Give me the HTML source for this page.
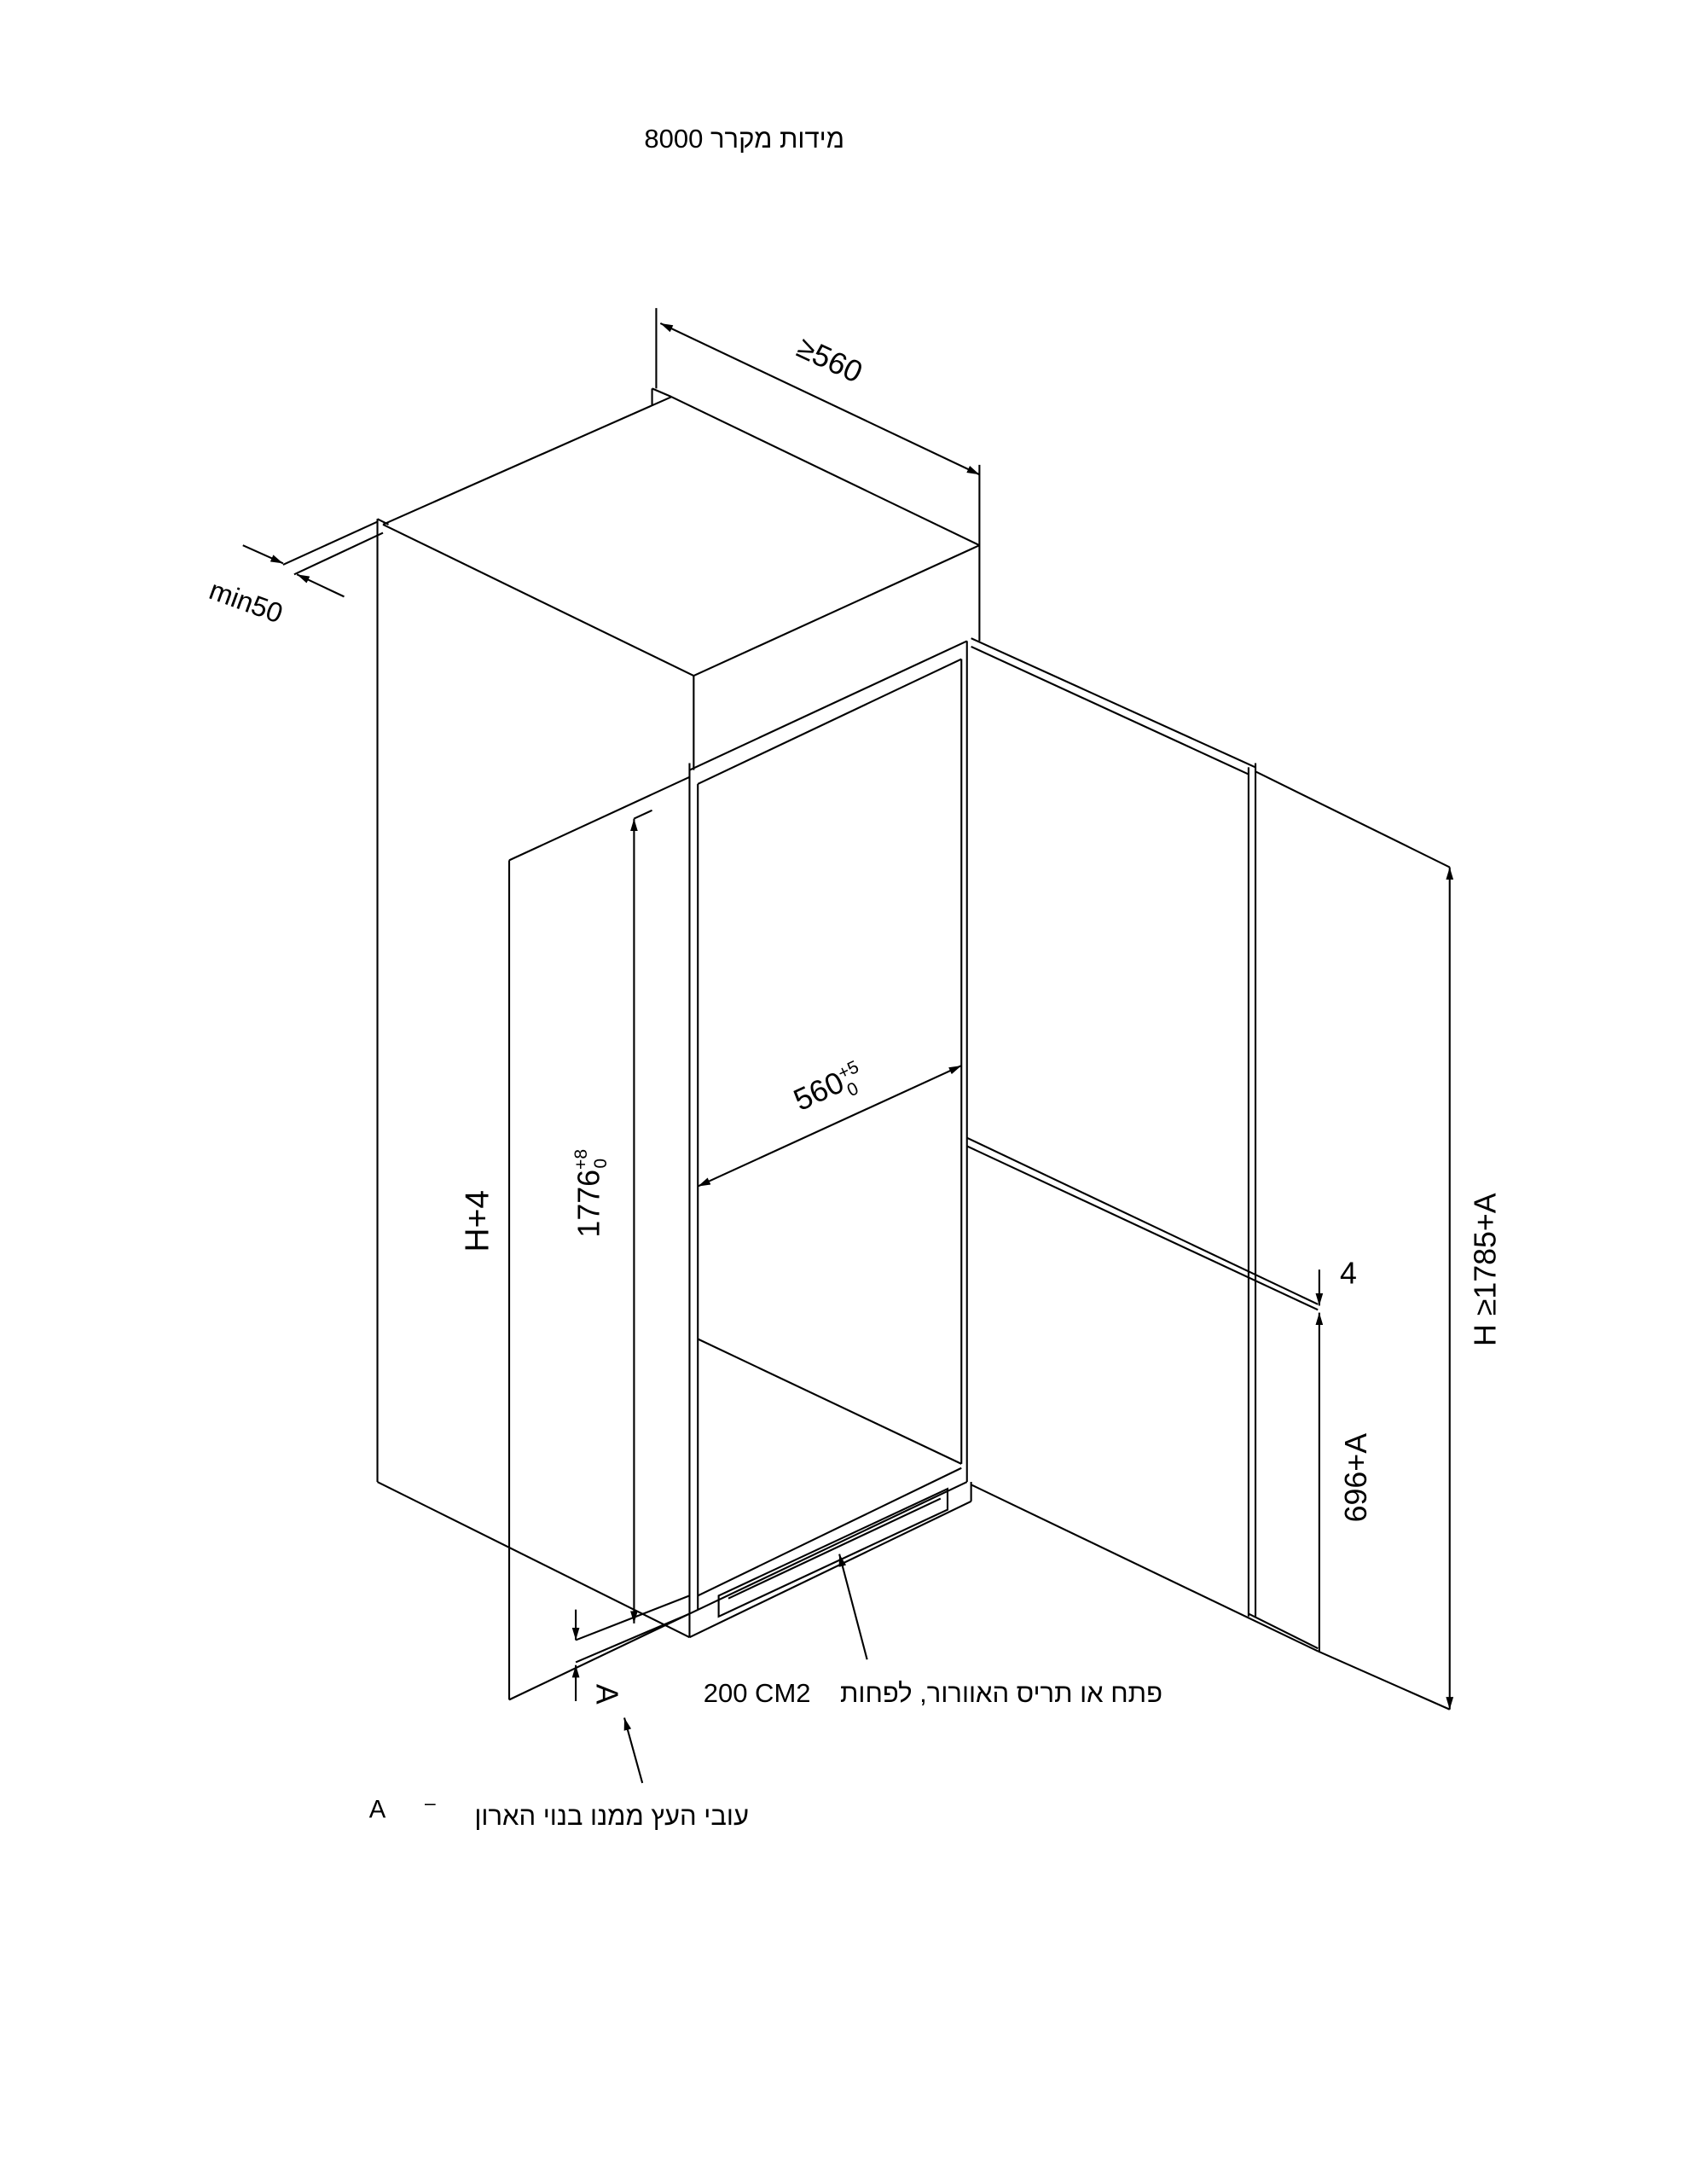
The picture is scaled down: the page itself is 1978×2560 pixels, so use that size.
<!DOCTYPE html>
<html><head><meta charset="utf-8"><style>
html,body{margin:0;padding:0;background:#fff}
body{position:relative;width:1978px;height:2560px;overflow:hidden}
svg{display:block;position:absolute;left:0;top:0}
text{font-family:"Liberation Sans","DejaVu Sans",sans-serif;fill:#000}
.he{position:absolute;font-family:"Liberation Sans","DejaVu Sans",sans-serif;font-size:31px;line-height:34px;white-space:pre;direction:rtl;color:#000}
</style></head><body>
<svg width="1978" height="2560" viewBox="0 0 1216 1574" xmlns="http://www.w3.org/2000/svg">
<defs>
<marker id="a" viewBox="0 0 10 10" refX="10" refY="5" markerWidth="9" markerHeight="9" orient="auto-start-reverse" markerUnits="userSpaceOnUse"><path d="M0,2 L10,5 L0,8 z" fill="#000"/></marker>
</defs>
<g stroke="#000" stroke-width="1.3" fill="none">
<line x1="473" y1="222" x2="473" y2="280"/>
<line x1="470" y1="280" x2="470" y2="292"/>
<line x1="470" y1="280" x2="484" y2="286"/>
<line x1="276" y1="378" x2="484" y2="286"/>
<line x1="484" y1="286" x2="706" y2="393"/>
<line x1="276" y1="378" x2="500" y2="487"/>
<line x1="500" y1="487" x2="706" y2="393"/>
<line x1="706" y1="335" x2="706" y2="462"/>
<line x1="500" y1="487" x2="500" y2="555"/>
<line x1="272" y1="374" x2="272" y2="1068"/>
<line x1="272" y1="374" x2="280" y2="378"/>
<line x1="272" y1="1068" x2="497" y2="1180"/>
<line x1="204" y1="407" x2="272" y2="376"/>
<line x1="212" y1="414" x2="276" y2="384"/>
<line x1="175" y1="393" x2="204" y2="406" marker-end="url(#a)"/>
<line x1="248" y1="430" x2="214" y2="414" marker-end="url(#a)"/>
<line x1="476" y1="233" x2="706" y2="342" marker-start="url(#a)" marker-end="url(#a)"/>
<line x1="367" y1="620" x2="367" y2="1225"/>
<line x1="367" y1="620" x2="497" y2="560"/>
<line x1="367" y1="1225" x2="497" y2="1163"/>
<line x1="497" y1="550" x2="497" y2="1180"/>
<line x1="503" y1="565" x2="503" y2="1160"/>
<line x1="693" y1="475" x2="693" y2="1055"/>
<line x1="697" y1="462" x2="697" y2="1068"/>
<line x1="497" y1="555" x2="697" y2="462"/>
<line x1="503" y1="565" x2="693" y2="475"/>
<line x1="503" y1="965" x2="693" y2="1055"/>
<line x1="497" y1="1163" x2="697" y2="1068"/>
<line x1="497" y1="1180" x2="700" y2="1082"/>
<line x1="700" y1="1068" x2="700" y2="1082"/>
<line x1="503" y1="1150" x2="693" y2="1058"/>
<path d="M518,1150 L518,1165 L683,1088 L683,1073 Z"/>
<path d="M525,1152 L678,1080"/>
<line x1="700" y1="460" x2="905" y2="553"/>
<line x1="700" y1="466" x2="900" y2="558"/>
<line x1="900" y1="553" x2="900" y2="1165"/>
<line x1="905" y1="550" x2="905" y2="1165"/>
<line x1="697" y1="820" x2="950" y2="940"/>
<line x1="697" y1="826" x2="950" y2="944"/>
<line x1="700" y1="1070" x2="950" y2="1190"/>
<line x1="900" y1="1163" x2="950" y2="1188"/>
<line x1="905" y1="556" x2="1045" y2="625"/>
<line x1="950" y1="1190" x2="1045" y2="1232"/>
<line x1="1045" y1="625" x2="1045" y2="1232" marker-start="url(#a)" marker-end="url(#a)"/>
<line x1="951" y1="915" x2="951" y2="941" marker-end="url(#a)"/>
<line x1="951" y1="1190" x2="951" y2="946" marker-end="url(#a)"/>
<line x1="457" y1="590" x2="457" y2="1170" marker-start="url(#a)" marker-end="url(#a)"/>
<line x1="457" y1="590" x2="470" y2="584"/>
<line x1="503" y1="855" x2="693" y2="768" marker-start="url(#a)" marker-end="url(#a)"/>
<line x1="415" y1="1160" x2="415" y2="1182" marker-end="url(#a)"/>
<line x1="415" y1="1226" x2="415" y2="1200" marker-end="url(#a)"/>
<line x1="415" y1="1182" x2="497" y2="1150"/>
<line x1="415" y1="1198" x2="497" y2="1163"/>
<line x1="463" y1="1285" x2="450" y2="1238" marker-end="url(#a)"/>
<line x1="625" y1="1196" x2="605" y2="1120" marker-end="url(#a)"/>
</g>
<g font-size="22">
<text x="595" y="266" transform="rotate(25 595 266)" text-anchor="middle">≥560</text>
<text x="175" y="440" transform="rotate(20 175 440)" text-anchor="middle" font-size="20">min50</text>
<text x="600" y="790" transform="rotate(-25 600 790)" text-anchor="middle">560<tspan font-size="13" dy="-8">+5</tspan><tspan font-size="13" dx="-14" dy="14">0</tspan></text>
<text x="432" y="860" transform="rotate(-90 432 860)" text-anchor="middle">1776<tspan font-size="13" dy="-9">+8</tspan><tspan font-size="13" dx="-14" dy="14">0</tspan></text>
<text x="352" y="880" transform="rotate(-90 352 880)" text-anchor="middle" font-size="24">H+4</text>
<text x="1078" y="915" transform="rotate(-90 1078 915)" text-anchor="middle">H ≥1785+A</text>
<text x="985" y="1065" transform="rotate(-90 985 1065)" text-anchor="middle">696+A</text>
<text x="972" y="925" text-anchor="middle">4</text>
<text x="430" y="1221" transform="rotate(90 430 1221)" text-anchor="middle">A</text>
<text x="272" y="1310" text-anchor="middle" font-size="18">A</text>
<text x="310" y="1304" text-anchor="middle" font-size="14">–</text>
</g>
</svg>
<div class="he" style="right:988px;top:146px;font-size:31px">מידות מקרר <bdi dir="ltr">8000</bdi></div>
<div class="he" style="right:615px;top:1968px">פתח או תריס האוורור, לפחות    <bdi dir="ltr">200 CM2</bdi></div>
<div class="he" style="right:1100px;top:2112px">עובי העץ ממנו בנוי הארון</div>
</body></html>
